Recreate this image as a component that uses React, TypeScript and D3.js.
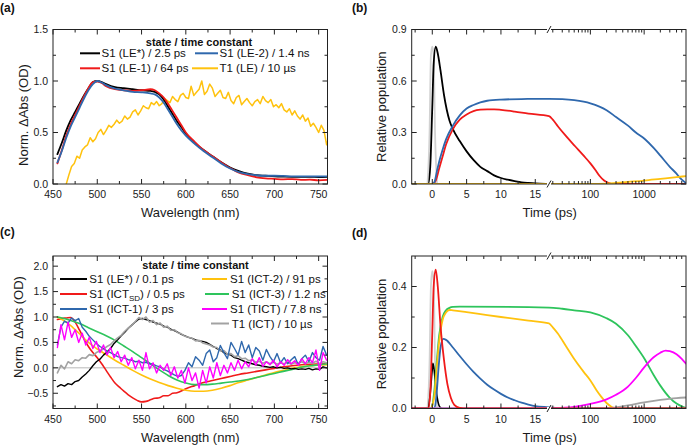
import React from "react";
import * as d3 from "d3";

const FONT = "'Liberation Sans', Arial, Helvetica, sans-serif";
const COL = {
  black: "#000000",
  red: "#f01a1a",
  blue: "#2f68ad",
  yellow: "#ffc20e",
  green: "#2ec45c",
  magenta: "#ff00ff",
  gray: "#a2a2a2",
  irf: "#d2d2d2",
};

// ---------------- Panel (a) spectra ----------------
const aWl = [455, 460, 465, 470, 475, 480, 485, 490, 495, 500, 505, 510, 520, 530, 540, 550, 560, 565, 570, 575, 580, 585, 590, 595, 600, 610, 620, 630, 640, 650, 660, 670, 680, 690, 700, 710, 720, 730, 740, 750, 760];
const aLEstar = [0.29, 0.4, 0.52, 0.62, 0.7, 0.78, 0.86, 0.93, 0.99, 1.0, 0.99, 0.97, 0.94, 0.93, 0.92, 0.91, 0.905, 0.895, 0.87, 0.82, 0.75, 0.68, 0.61, 0.55, 0.49, 0.4, 0.33, 0.27, 0.21, 0.16, 0.125, 0.1, 0.085, 0.08, 0.075, 0.072, 0.07, 0.07, 0.07, 0.068, 0.07];
const aLE1 = [0.2, 0.33, 0.47, 0.58, 0.67, 0.76, 0.85, 0.93, 0.99, 0.995, 0.98, 0.95, 0.92, 0.91, 0.905, 0.91, 0.92, 0.91, 0.88, 0.84, 0.78, 0.71, 0.64, 0.57, 0.5, 0.41, 0.33, 0.27, 0.21, 0.155, 0.11, 0.085, 0.065, 0.055, 0.05, 0.045, 0.048, 0.04, 0.042, 0.036, 0.04];
const aLE2 = [0.21, 0.32, 0.45, 0.56, 0.65, 0.74, 0.83, 0.91, 0.97, 1.0, 0.985, 0.96, 0.925, 0.91, 0.895, 0.89, 0.88, 0.87, 0.84, 0.79, 0.72, 0.65, 0.58, 0.52, 0.47, 0.39, 0.32, 0.26, 0.2, 0.15, 0.115, 0.095, 0.085, 0.08, 0.08, 0.078, 0.075, 0.075, 0.075, 0.074, 0.075];
const aT1Start = 465;
const aT1Step = 3;
const aT1 = [0.0, 0.09, 0.17, 0.2, 0.27, 0.25, 0.33, 0.36, 0.38, 0.45, 0.41, 0.44, 0.5, 0.53, 0.48, 0.52, 0.57, 0.55, 0.58, 0.62, 0.59, 0.61, 0.66, 0.63, 0.65, 0.7, 0.72, 0.67, 0.71, 0.76, 0.74, 0.73, 0.79, 0.77, 0.8, 0.76, 0.78, 0.83, 0.81, 0.79, 0.85, 0.82, 0.8, 0.86, 0.88, 0.84, 0.83, 0.95, 0.86, 0.89, 0.92, 1.0, 0.87, 0.9, 0.97, 0.93, 0.85, 0.88, 0.91, 0.84, 0.83, 0.89, 0.81, 0.78, 0.84, 0.86, 0.77, 0.8, 0.83, 0.79, 0.76, 0.8, 0.82, 0.78, 0.85, 0.81, 0.79, 0.82, 0.75, 0.77, 0.74, 0.78, 0.72, 0.7, 0.73, 0.67, 0.71, 0.66, 0.63, 0.67, 0.61, 0.64, 0.56, 0.59, 0.55, 0.5, 0.57, 0.52, 0.38, 0.47];

// ---------------- Panel (c) spectra ----------------
const cNoisyStart = 455;
const cNoisyStep = 4;
const cLEstar = [-0.37, -0.33, -0.36, -0.31, -0.33, -0.27, -0.25, -0.18, -0.12, -0.05, 0.04, 0.12, 0.17, 0.25, 0.31, 0.38, 0.48, 0.55, 0.63, 0.7, 0.78, 0.84, 0.9, 0.96, 0.97, 0.95, 0.93, 0.9, 0.88, 0.86, 0.82, 0.8, 0.76, 0.73, 0.7, 0.66, 0.63, 0.6, 0.58, 0.55, 0.53, 0.52, 0.5, 0.46, 0.42, 0.38, 0.35, 0.3, 0.27, 0.25, 0.2, 0.18, 0.15, 0.12, 0.1, 0.08, 0.06, 0.05, 0.03, 0.02, 0.01, 0.02, 0.0, 0.01, -0.01, 0.0, -0.02, -0.01, -0.03, -0.02, -0.03, -0.01, -0.04, -0.02, -0.03, 0.02, 0.0];
const cT1 = [-0.1, 0.05, -0.02, 0.12, 0.08, 0.16, 0.14, 0.2, 0.19, 0.26, 0.24, 0.3, 0.33, 0.37, 0.42, 0.46, 0.53, 0.59, 0.64, 0.72, 0.78, 0.84, 0.91, 0.99, 0.95, 1.0, 0.9, 0.93, 0.85, 0.88, 0.8, 0.82, 0.74, 0.75, 0.69, 0.67, 0.62, 0.6, 0.58, 0.53, 0.54, 0.49, 0.47, 0.45, 0.41, 0.4, 0.33, 0.34, 0.27, 0.28, 0.22, 0.24, 0.18, 0.19, 0.14, 0.16, 0.11, 0.13, 0.09, 0.12, 0.08, 0.11, 0.07, 0.1, 0.08, 0.11, 0.07, 0.1, 0.09, 0.12, 0.08, 0.11, 0.09, 0.13, 0.08, 0.12, 0.1];
const cICT1 = [0.45, 0.8, 0.92, 0.88, 0.98, 0.93, 0.97, 0.8, 0.72, 0.62, 0.55, 0.48, 0.42, 0.38, 0.33, 0.3, 0.26, 0.22, 0.2, 0.19, 0.16, 0.15, 0.12, 0.13, 0.1, 0.11, 0.08, 0.07, 0.04, 0.02, -0.03, -0.06, -0.1, -0.14, -0.17, -0.15, -0.05, 0.1, 0.02, 0.22, 0.15, 0.05, 0.28, 0.35, 0.12, 0.2, 0.44, 0.3, 0.18, 0.5, 0.38, 0.25, 0.52, 0.3, 0.45, 0.2, 0.4, 0.33, 0.15, 0.36, 0.22, 0.12, 0.28, 0.1, 0.2, 0.08, 0.16, 0.22, 0.06, 0.18, 0.25, 0.12, 0.3, 0.2, 0.15, 0.42, 0.25];
const cTICT = [0.4, 0.85, 0.55, 0.9, 0.6, 0.75, 0.5, 0.68, 0.45, 0.6, 0.38, 0.52, 0.3, 0.45, 0.25, 0.4, 0.2, 0.32, 0.12, 0.25, 0.05, 0.2, -0.02, 0.15, -0.05, 0.3, -0.02, 0.1, -0.1, 0.05, -0.05, 0.08, -0.15, 0.02, -0.2, -0.05, -0.3, 0.0, -0.25, -0.1, -0.4, -0.05, -0.3, 0.02, -0.2, 0.1, -0.15, 0.05, -0.1, 0.1, -0.05, 0.15, -0.02, 0.12, 0.02, 0.18, 0.05, 0.2, 0.03, 0.12, 0.06, 0.15, 0.02, 0.12, 0.05, 0.16, 0.08, 0.14, 0.05, 0.18, 0.08, 0.2, 0.1, 0.35, -0.05, 0.3, 0.15];
const cICTsdWl = [455, 460, 465, 470, 475, 480, 485, 490, 495, 500, 505, 510, 515, 520, 525, 530, 535, 540, 545, 550, 555, 560, 565, 570, 575, 580, 585, 590, 600, 610, 620, 630, 640, 650, 660, 670, 680, 690, 700, 710, 720, 740, 760];
const cICTsd = [0.95, 0.97, 0.98, 0.99, 0.9, 0.74, 0.57, 0.42, 0.3, 0.2, 0.08, -0.05, -0.18, -0.3, -0.38, -0.46, -0.53, -0.59, -0.64, -0.67, -0.66, -0.63, -0.6, -0.59, -0.55, -0.55, -0.5, -0.49, -0.41, -0.35, -0.29, -0.25, -0.21, -0.17, -0.13, -0.1, -0.07, -0.04, -0.01, 0.02, 0.04, 0.07, 0.08];
const cICT2Wl = [455, 460, 465, 470, 475, 480, 485, 490, 495, 500, 510, 520, 530, 540, 550, 560, 570, 580, 590, 600, 610, 620, 630, 640, 650, 660, 670, 680, 690, 700, 710, 720, 730, 740, 760];
const cICT2 = [1.0, 0.95, 0.9, 0.83, 0.75, 0.67, 0.58, 0.5, 0.43, 0.37, 0.26, 0.15, 0.05, -0.05, -0.14, -0.22, -0.29, -0.35, -0.4, -0.44, -0.46, -0.46, -0.44, -0.4, -0.35, -0.29, -0.24, -0.19, -0.14, -0.09, -0.05, -0.01, 0.02, 0.04, 0.06];
const cICT3Wl = [455, 460, 470, 480, 490, 500, 510, 520, 530, 540, 550, 560, 570, 580, 590, 600, 610, 620, 630, 640, 650, 660, 670, 680, 690, 700, 710, 720, 730, 740, 750, 760];
const cICT3 = [1.0, 0.98, 0.93, 0.87, 0.79, 0.71, 0.63, 0.54, 0.43, 0.32, 0.2, 0.08, -0.04, -0.15, -0.24, -0.3, -0.33, -0.33, -0.32, -0.3, -0.28, -0.26, -0.23, -0.19, -0.15, -0.11, -0.07, -0.03, 0.01, 0.04, 0.06, 0.08];

// ---------------- Panel (b) kinetics ----------------
const bIrfT = [-0.7, -0.4, -0.2, 0, 0.2, 0.4, 0.7];
const bIrf = [0, 0.3, 0.75, 0.8, 0.75, 0.3, 0];
const bLEstarT = [-3, -0.6, -0.3, 0, 0.2, 0.5, 0.8, 1.2, 1.7, 2.5, 3, 4, 5, 6, 7, 8, 9, 10, 11, 12, 13, 14, 15, 17, 30, 6000];
const bLEstar = [0, 0, 0.1, 0.45, 0.7, 0.8, 0.76, 0.66, 0.52, 0.37, 0.32, 0.25, 0.19, 0.14, 0.1, 0.075, 0.05, 0.035, 0.025, 0.017, 0.01, 0.006, 0.003, 0.001, 0, 0];
const bLE1T = [-3, 0, 0.5, 1, 1.5, 2, 3, 4, 5, 6, 7, 8, 9, 10, 12, 14, 17, 20, 25, 35, 52, 75, 100, 125, 150, 180, 220, 260, 6000];
const bLE1 = [0, 0, 0.02, 0.09, 0.16, 0.23, 0.32, 0.375, 0.405, 0.425, 0.433, 0.435, 0.435, 0.432, 0.422, 0.41, 0.395, 0.375, 0.335, 0.28, 0.22, 0.165, 0.12, 0.08, 0.045, 0.02, 0.006, 0, 0];
const bLE2T = [-3, 0, 0.3, 0.7, 1, 1.5, 2, 3, 4, 5, 6, 7, 8, 10, 13, 17, 30, 50, 100, 200, 300, 500, 700, 1000, 1500, 2000, 3000, 4000, 4500, 5000, 6000];
const bLE2 = [0, 0, 0.01, 0.08, 0.13, 0.2, 0.26, 0.34, 0.4, 0.44, 0.46, 0.475, 0.485, 0.492, 0.495, 0.496, 0.494, 0.488, 0.47, 0.43, 0.39, 0.34, 0.3, 0.265, 0.21, 0.165, 0.1, 0.06, 0.04, 0.025, 0.005];
const bT1T = [-3, 100, 200, 300, 500, 1000, 2000, 4000, 6000];
const bT1 = [0, 0, 0.002, 0.006, 0.012, 0.02, 0.03, 0.04, 0.046];

// ---------------- Panel (d) kinetics ----------------
const dIrfT = [-0.7, -0.4, -0.2, 0, 0.2, 0.4, 0.7];
const dIrf = [0, 0.15, 0.4, 0.45, 0.42, 0.15, 0];
const dLEstarT = [-3, -0.6, -0.3, 0, 0.1, 0.3, 0.5, 0.8, 1.1, 1.5, 6000];
const dLEstar = [0, 0, 0.05, 0.13, 0.148, 0.12, 0.07, 0.025, 0.005, 0, 0];
const dICTsdT = [-3, -0.6, -0.3, 0, 0.2, 0.5, 0.8, 1.2, 1.7, 2.2, 2.7, 3.2, 4, 5, 6000];
const dICTsd = [0, 0, 0.05, 0.25, 0.4, 0.455, 0.4, 0.27, 0.16, 0.08, 0.035, 0.012, 0.002, 0, 0];
const dICT1T = [-3, 0.3, 0.6, 0.9, 1.2, 1.6, 2, 3, 4, 5, 6, 7, 8, 9, 10, 11, 12, 13, 14, 15, 17, 25, 40, 6000];
const dICT1 = [0, 0, 0.04, 0.13, 0.2, 0.228, 0.225, 0.2, 0.172, 0.145, 0.12, 0.098, 0.078, 0.062, 0.048, 0.036, 0.027, 0.019, 0.013, 0.008, 0.004, 0.001, 0, 0];
const dICT2T = [-3, -0.3, 0.3, 0.6, 1, 1.5, 2, 2.5, 3, 5, 8, 11, 14, 17, 20, 25, 35, 52, 75, 100, 130, 160, 200, 250, 300, 6000];
const dICT2 = [0, 0, 0.04, 0.12, 0.22, 0.29, 0.315, 0.323, 0.322, 0.316, 0.306, 0.297, 0.288, 0.279, 0.266, 0.245, 0.205, 0.158, 0.12, 0.092, 0.06, 0.038, 0.018, 0.005, 0, 0];
const dICT3T = [-3, -0.3, 0, 0.3, 0.6, 1, 1.5, 2, 2.5, 3, 4, 17, 30, 50, 100, 200, 300, 500, 700, 1000, 1500, 2000, 3000, 4000, 5000, 6000];
const dICT3 = [0, 0, 0.01, 0.06, 0.14, 0.24, 0.3, 0.322, 0.33, 0.333, 0.334, 0.331, 0.327, 0.322, 0.315, 0.296, 0.278, 0.24, 0.205, 0.165, 0.11, 0.075, 0.035, 0.016, 0.007, 0.002];
const dTICTT = [-3, 17, 30, 50, 100, 200, 300, 500, 700, 1000, 1500, 2000, 2500, 3000, 4000, 5000, 6000];
const dTICT = [0, 0, 0.002, 0.005, 0.015, 0.03, 0.045, 0.072, 0.1, 0.135, 0.168, 0.183, 0.19, 0.188, 0.178, 0.163, 0.147];
const dT1T = [-3, 200, 300, 500, 1000, 2000, 4000, 6000];
const dT1 = [0, 0, 0.004, 0.01, 0.02, 0.028, 0.034, 0.036];

// ---------------- layout ----------------
const SPEC_X0 = 53;
const SPEC_X1 = 327.5;
const KIN_X0 = 411.7;
const KIN_XB = 549;
const KIN_X1 = 686;
const TOP_Y0 = 29.5;
const TOP_Y1 = 184;
const BOT_Y0 = 256;
const BOT_Y1 = 408.5;

const wlTicks = [450, 500, 550, 600, 650, 700, 750];
const wlMinor = [475, 525, 575, 625, 675, 725];
const kinLinTicks = [0, 5, 10, 15];
const kinLinMinor = [-2.5, 2.5, 7.5, 12.5];
const kinLogTicks = [100, 1000];
const kinLogMinor = [20, 30, 40, 50, 60, 70, 80, 90, 200, 300, 400, 500, 600, 700, 800, 900, 2000, 3000, 4000, 5000];

type Series = { x: number[]; y: number[]; color: string; width: number; smooth: boolean };

const grid = (start: number, step: number, vals: number[]) => vals.map((_, i) => start + i * step);

function Ticks({ x0, x1, y0, y1, xMaj, xMin, yMaj, yMin, fx, fy }: any) {
  const els: any[] = [];
  const M = 5, m = 3;
  xMaj.forEach((v: number, i: number) => {
    const px = fx(v);
    els.push(<line key={"xM" + i} x1={px} x2={px} y1={y1} y2={y1 - M} />);
    els.push(<line key={"xMt" + i} x1={px} x2={px} y1={y0} y2={y0 + M} />);
  });
  xMin.forEach((v: number, i: number) => {
    const px = fx(v);
    els.push(<line key={"xm" + i} x1={px} x2={px} y1={y1} y2={y1 - m} />);
    els.push(<line key={"xmt" + i} x1={px} x2={px} y1={y0} y2={y0 + m} />);
  });
  yMaj.forEach((v: number, i: number) => {
    const py = fy(v);
    els.push(<line key={"yM" + i} x1={x0} x2={x0 + M} y1={py} y2={py} />);
    els.push(<line key={"yMr" + i} x1={x1} x2={x1 - M} y1={py} y2={py} />);
  });
  yMin.forEach((v: number, i: number) => {
    const py = fy(v);
    els.push(<line key={"ym" + i} x1={x0} x2={x0 + m} y1={py} y2={py} />);
    els.push(<line key={"ymr" + i} x1={x1} x2={x1 - m} y1={py} y2={py} />);
  });
  return <g stroke="#222" strokeWidth={1}>{els}</g>;
}

function Curves({ series, fx, fy, clipId }: any) {
  return (
    <g clipPath={`url(#${clipId})`} fill="none" strokeLinejoin="round" strokeLinecap="round">
      {series.map((s: Series, i: number) => {
        const pts: [number, number][] = s.x.map((xv, j) => [fx(xv), fy(s.y[j])]);
        const gen = d3.line<[number, number]>().x((d) => d[0]).y((d) => d[1]).curve(s.smooth ? d3.curveMonotoneX : d3.curveLinear);
        return <path key={i} d={gen(pts) || ""} stroke={s.color} strokeWidth={s.width} />;
      })}
    </g>
  );
}

function YLabels({ x0, ticks, fy, fmt }: any) {
  return (
    <g fontSize={10.5} textAnchor="end" fill="#1a1a1a">
      {ticks.map((v: number, i: number) => (
        <text key={i} x={x0 - 5} y={fy(v)} dy="0.36em">{fmt(v)}</text>
      ))}
    </g>
  );
}

function XLabels({ y1, ticks, fx, fmt }: any) {
  return (
    <g fontSize={10.5} textAnchor="middle" fill="#1a1a1a">
      {ticks.map((v: number, i: number) => (
        <text key={i} x={fx(v)} y={y1 + 14}>{fmt(v)}</text>
      ))}
    </g>
  );
}

function LegendRow({ lx0, lx1, tx, y, color, children }: any) {
  return (
    <g>
      <line x1={lx0} x2={lx1} y1={y} y2={y} stroke={color} strokeWidth={2} />
      <text x={tx} y={y} dy="0.36em" fontSize={11.5} fill="#111">{children}</text>
    </g>
  );
}

export default function App() {
  const fmt1 = (v: number) => (v < 0 ? "\u2212" : "") + Math.abs(v).toFixed(1);

  // scales
  const xWl = d3.scaleLinear().domain([450, 760]).range([SPEC_X0, SPEC_X1]);
  const yA = d3.scaleLinear().domain([0, 1.5]).range([TOP_Y1, TOP_Y0]);
  const yC = d3.scaleLinear().domain([-0.8, 2.2]).range([BOT_Y1, BOT_Y0]);
  const xLin = d3.scaleLinear().domain([-3, 17]).range([KIN_X0, KIN_XB]);
  const xLog = d3.scaleLog().domain([17, 6000]).range([KIN_XB, KIN_X1]);
  const xT = (t: number) => (t <= 17 ? xLin(t) : xLog(t));
  const yB = d3.scaleLinear().domain([0, 0.9]).range([TOP_Y1, TOP_Y0]);
  const yD = d3.scaleLinear().domain([0, 0.5]).range([BOT_Y1, BOT_Y0]);

  const seriesA: Series[] = [
    { x: grid(aT1Start, aT1Step, aT1), y: aT1, color: COL.yellow, width: 1.5, smooth: false },
    { x: aWl, y: aLEstar, color: COL.black, width: 1.8, smooth: true },
    { x: aWl, y: aLE1, color: COL.red, width: 1.8, smooth: true },
    { x: aWl, y: aLE2, color: COL.blue, width: 1.8, smooth: true },
  ];
  const seriesC: Series[] = [
    { x: cICTsdWl, y: cICTsd, color: COL.red, width: 1.6, smooth: true },
    { x: cICT2Wl, y: cICT2, color: COL.yellow, width: 1.6, smooth: true },
    { x: cICT3Wl, y: cICT3, color: COL.green, width: 1.6, smooth: true },
    { x: grid(cNoisyStart, cNoisyStep, cLEstar), y: cLEstar, color: COL.black, width: 1.4, smooth: false },
    { x: grid(cNoisyStart, cNoisyStep, cT1), y: cT1, color: COL.gray, width: 1.6, smooth: false },
    { x: grid(cNoisyStart, cNoisyStep, cICT1), y: cICT1, color: COL.blue, width: 1.4, smooth: false },
    { x: grid(cNoisyStart, cNoisyStep, cTICT), y: cTICT, color: COL.magenta, width: 1.4, smooth: false },
  ];
  const seriesB: Series[] = [
    { x: bIrfT, y: bIrf, color: COL.irf, width: 1.8, smooth: true },
    { x: bLEstarT, y: bLEstar, color: COL.black, width: 1.8, smooth: true },
    { x: bLE1T, y: bLE1, color: COL.red, width: 1.8, smooth: true },
    { x: bLE2T, y: bLE2, color: COL.blue, width: 1.8, smooth: true },
    { x: bT1T, y: bT1, color: COL.yellow, width: 1.8, smooth: true },
  ];
  const seriesD: Series[] = [
    { x: dIrfT, y: dIrf, color: COL.irf, width: 1.8, smooth: true },
    { x: dLEstarT, y: dLEstar, color: COL.black, width: 1.6, smooth: true },
    { x: dICT3T, y: dICT3, color: COL.green, width: 1.8, smooth: true },
    { x: dICT2T, y: dICT2, color: COL.yellow, width: 1.8, smooth: true },
    { x: dICT1T, y: dICT1, color: COL.blue, width: 1.8, smooth: true },
    { x: dTICTT, y: dTICT, color: COL.magenta, width: 1.8, smooth: true },
    { x: dT1T, y: dT1, color: COL.gray, width: 1.8, smooth: true },
    { x: dICTsdT, y: dICTsd, color: COL.red, width: 1.8, smooth: true },
  ];

  const kinTickLabel = (v: number) => String(v);

  const breakMark = (y: number) => (
    <g>
      <rect x={KIN_XB - 2} y={y - 1.5} width={4} height={3} fill="#fff" />
      <line x1={KIN_XB - 2} y1={y + 3.5} x2={KIN_XB + 2} y2={y - 3.5} stroke="#222" strokeWidth={1} />
    </g>
  );

  const kinPanel = (y0: number, y1: number, ys: any, yMaj: number[], yMin: number[], series: Series[], clip: string) => (
    <g>
      <Curves series={series} fx={xT} fy={ys} clipId={clip} />
      <rect x={KIN_X0} y={y0} width={KIN_X1 - KIN_X0} height={y1 - y0} fill="none" stroke="#222" strokeWidth={1} />
      <Ticks x0={KIN_X0} x1={KIN_X1} y0={y0} y1={y1} xMaj={[...kinLinTicks, ...kinLogTicks]} xMin={[...kinLinMinor, ...kinLogMinor]} yMaj={yMaj} yMin={yMin} fx={xT} fy={ys} />
      {breakMark(y1)}
      {breakMark(y0)}
      <YLabels x0={KIN_X0} ticks={yMaj} fy={ys} fmt={fmt1} />
      <XLabels y1={y1} ticks={[...kinLinTicks, ...kinLogTicks]} fx={xT} fmt={kinTickLabel} />
      <text x={549.7} y={y1 + 33} fontSize={13} textAnchor="middle" fill="#1a1a1a">Time (ps)</text>
    </g>
  );

  return (
    <svg width={688} height={448} viewBox="0 0 688 448" style={{ display: "block", position: "absolute", left: 0, top: 0, background: "#fff" }} fontFamily={FONT}>
      <defs>
        <clipPath id="clipA"><rect x={SPEC_X0} y={TOP_Y0} width={SPEC_X1 - SPEC_X0} height={TOP_Y1 - TOP_Y0} /></clipPath>
        <clipPath id="clipB"><rect x={KIN_X0} y={TOP_Y0} width={KIN_X1 - KIN_X0} height={TOP_Y1 - TOP_Y0} /></clipPath>
        <clipPath id="clipC"><rect x={SPEC_X0} y={BOT_Y0} width={SPEC_X1 - SPEC_X0} height={BOT_Y1 - BOT_Y0} /></clipPath>
        <clipPath id="clipD"><rect x={KIN_X0} y={BOT_Y0} width={KIN_X1 - KIN_X0} height={BOT_Y1 - BOT_Y0} /></clipPath>
      </defs>
      <rect x={0} y={0} width={688} height={448} fill="#fff" />

      {/* panel labels */}
      <g fontSize={12} fontWeight="bold" fill="#111">
        <text x={0} y={12}>(a)</text>
        <text x={352} y={12}>(b)</text>
        <text x={0} y={236}>(c)</text>
        <text x={352} y={236.5}>(d)</text>
      </g>

      {/* ---------- (a) ---------- */}
      <Curves series={seriesA} fx={xWl} fy={yA} clipId="clipA" />
      <rect x={SPEC_X0} y={TOP_Y0} width={SPEC_X1 - SPEC_X0} height={TOP_Y1 - TOP_Y0} fill="none" stroke="#222" strokeWidth={1} />
      <Ticks x0={SPEC_X0} x1={SPEC_X1} y0={TOP_Y0} y1={TOP_Y1} xMaj={wlTicks} xMin={wlMinor} yMaj={[0, 0.5, 1, 1.5]} yMin={[0.25, 0.75, 1.25]} fx={xWl} fy={yA} />
      <YLabels x0={SPEC_X0} ticks={[0, 0.5, 1, 1.5]} fy={yA} fmt={fmt1} />
      <XLabels y1={TOP_Y1} ticks={wlTicks} fx={xWl} fmt={(v: number) => String(v)} />
      <text x={190.3} y={TOP_Y1 + 33} fontSize={13} textAnchor="middle" fill="#1a1a1a">Wavelength (nm)</text>
      <text transform={`translate(${23 + 4.5},115) rotate(-90)`} fontSize={13} textAnchor="middle" fill="#1a1a1a">Norm. ΔAbs (OD)</text>
      <text x={199} y={41.7} dy="0.36em" fontSize={11} fontWeight="bold" textAnchor="middle" fill="#111">state / time constant</text>
      <LegendRow lx0={80} lx1={100} tx={101.5} y={53.3} color={COL.black}>S1 (LE*) / 2.5 ps</LegendRow>
      <LegendRow lx0={195} lx1={218} tx={219.5} y={53.3} color={COL.blue}>S1 (LE-2) / 1.4 ns</LegendRow>
      <LegendRow lx0={80} lx1={100} tx={101.5} y={68.3} color={COL.red}>S1 (LE-1) / 64 ps</LegendRow>
      <LegendRow lx0={192} lx1={218} tx={219.5} y={68.3} color={COL.yellow}>T1 (LE) / 10 µs</LegendRow>

      {/* ---------- (c) ---------- */}
      <line x1={SPEC_X0} x2={SPEC_X1} y1={yC(0)} y2={yC(0)} stroke="#b8b8b8" strokeWidth={1} />
      <Curves series={seriesC} fx={xWl} fy={yC} clipId="clipC" />
      <rect x={SPEC_X0} y={BOT_Y0} width={SPEC_X1 - SPEC_X0} height={BOT_Y1 - BOT_Y0} fill="none" stroke="#222" strokeWidth={1} />
      <Ticks x0={SPEC_X0} x1={SPEC_X1} y0={BOT_Y0} y1={BOT_Y1} xMaj={wlTicks} xMin={wlMinor} yMaj={[-0.5, 0, 0.5, 1, 1.5, 2]} yMin={[-0.75, -0.25, 0.25, 0.75, 1.25, 1.75]} fx={xWl} fy={yC} />
      <YLabels x0={SPEC_X0} ticks={[-0.5, 0, 0.5, 1, 1.5, 2]} fy={yC} fmt={fmt1} />
      <XLabels y1={BOT_Y1} ticks={wlTicks} fx={xWl} fmt={(v: number) => String(v)} />
      <text x={190.3} y={BOT_Y1 + 33} fontSize={13} textAnchor="middle" fill="#1a1a1a">Wavelength (nm)</text>
      <text transform={`translate(${18 + 4.5},327) rotate(-90)`} fontSize={13} textAnchor="middle" fill="#1a1a1a">Norm. ΔAbs (OD)</text>
      <text x={195.5} y={265} dy="0.36em" fontSize={11} fontWeight="bold" textAnchor="middle" fill="#111">state / time constant</text>
      <LegendRow lx0={60} lx1={87} tx={89.3} y={279} color={COL.black}>S1 (LE*) / 0.1 ps</LegendRow>
      <LegendRow lx0={60} lx1={87} tx={89.3} y={294} color={COL.red}>
        <tspan>S1 (ICT</tspan><tspan dy={3} fontSize={8}>SD</tspan><tspan dy={-3}>) / 0.5 ps</tspan>
      </LegendRow>
      <LegendRow lx0={60} lx1={87} tx={89.3} y={309} color={COL.blue}>S1 (ICT-1) / 3 ps</LegendRow>
      <LegendRow lx0={202} lx1={227} tx={230} y={279} color={COL.yellow}>S1 (ICT-2) / 91 ps</LegendRow>
      <LegendRow lx0={205} lx1={229} tx={231.7} y={294} color={COL.green}>S1 (ICT-3) / 1.2 ns</LegendRow>
      <LegendRow lx0={202} lx1={227} tx={230} y={309} color={COL.magenta}>S1 (TICT) / 7.8 ns</LegendRow>
      <LegendRow lx0={211} lx1={229} tx={231.7} y={323.5} color={COL.gray}>T1 (ICT) / 10 µs</LegendRow>

      {/* ---------- (b) ---------- */}
      {kinPanel(TOP_Y0, TOP_Y1, yB, [0, 0.3, 0.6, 0.9], [0.15, 0.45, 0.75], seriesB, "clipB")}
      <text transform={`translate(${381.5 + 4.5},106.7) rotate(-90)`} fontSize={13} textAnchor="middle" fill="#1a1a1a">Relative population</text>

      {/* ---------- (d) ---------- */}
      {kinPanel(BOT_Y0, BOT_Y1, yD, [0, 0.2, 0.4], [0.1, 0.3], seriesD, "clipD")}
      <text transform={`translate(${381.5 + 4.5},334) rotate(-90)`} fontSize={13} textAnchor="middle" fill="#1a1a1a">Relative population</text>
    </svg>
  );
}
